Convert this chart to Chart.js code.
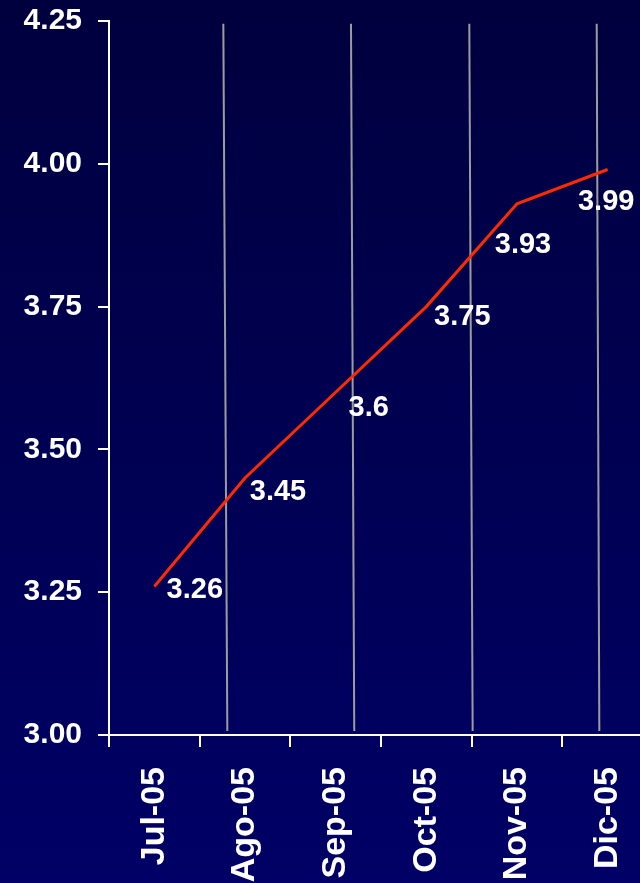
<!DOCTYPE html>
<html>
<head>
<meta charset="utf-8">
<script src="https://cdn.jsdelivr.net/npm/chart.js@4.4.0/dist/chart.umd.min.js"></script>
<style>
  html, body {
    margin: 0;
    padding: 0;
    width: 640px;
    height: 883px;
    overflow: hidden;
    background: linear-gradient(#00003e, #000066);
  }
  canvas { display: block; }
</style>
</head>
<body>
<canvas id="chart" width="700" height="883" style="width:700px;height:883px"></canvas>
<script>
// Monthly series
const months = ['Jul-05', 'Ago-05', 'Sep-05', 'Oct-05', 'Nov-05', 'Dic-05'];
const rates = [3.26, 3.45, 3.6, 3.75, 3.93, 3.99];
const yTicks = [3.00, 3.25, 3.50, 3.75, 4.00, 4.25];

// Vertical guide rules, given as category positions at their top and bottom ends
const guideTopIdx = [0.761, 2.169, 3.474, 4.879];
const guideBottomIdx = [0.805, 2.205, 3.511, 4.908];
const guideTopVal = 4.245;
const guideBottomVal = 3.007;

const FONT = '"Liberation Sans", Arial, Helvetica, sans-serif';
Chart.defaults.font.family = FONT;

// Writes each month's value next to its point
const valueLabels = {
  id: 'valueLabels',
  afterDatasetsDraw(chart, args, opts) {
    const meta = chart.getDatasetMeta(0);
    const ctx = chart.ctx;
    const size = opts.size;
    ctx.save();
    ctx.font = 'bold ' + size + 'px ' + FONT;
    ctx.fillStyle = '#ffffff';
    ctx.textAlign = 'center';
    ctx.textBaseline = 'alphabetic';
    meta.data.forEach((pt, i) => {
      const off = opts.offsets[i];
      ctx.fillText(String(rates[i]), pt.x + off[0], pt.y + off[1] + 0.358 * size);
    });
    ctx.restore();
  }
};

const guideSets = guideTopIdx.map((top, i) => ({
  data: [{ x: top, y: guideTopVal }, { x: guideBottomIdx[i], y: guideBottomVal }],
  xAxisID: 'xg',
  yAxisID: 'y',
  borderColor: '#9c9c9c',
  borderWidth: 2,
  pointRadius: 0,
  order: 1
}));

new Chart(document.getElementById('chart'), {
  type: 'line',
  data: {
    labels: months,
    datasets: [
      {
        data: rates,
        xAxisID: 'x',
        yAxisID: 'y',
        borderColor: '#ff2a00',
        borderWidth: 3,
        pointRadius: 0,
        tension: 0,
        order: 0
      },
      ...guideSets
    ]
  },
  options: {
    responsive: false,
    animation: false,
    devicePixelRatio: 1,
    layout: { padding: { left: 23, right: 47, top: 21, bottom: 0 } },
    plugins: {
      legend: { display: false },
      tooltip: { enabled: false },
      valueLabels: {
        size: 29,
        offsets: [[40.5, 1.5], [33, 12], [33, 13], [36, 8.5], [6, 39], [-1.5, 30.5]]
      }
    },
    scales: {
      x: {
        type: 'category',
        offset: true,
        grid: { offset: true, drawOnChartArea: false, color: '#ffffff', lineWidth: 2, tickLength: 12 },
        border: { color: '#ffffff', width: 2 },
        ticks: {
          color: '#ffffff',
          font: { size: 34, weight: 'bold' },
          minRotation: 90,
          maxRotation: 90,
          autoSkip: false,
          padding: 20
        },
        afterFit(scale) {
          scale.height = 148;
          scale.paddingLeft = 0;
          scale.paddingRight = 0;
        }
      },
      xg: { type: 'linear', display: false, min: -0.5, max: 5.5 },
      y: {
        min: 3,
        max: 4.25,
        afterBuildTicks(scale) { scale.ticks = yTicks.map(v => ({ value: v })); },
        grid: { drawOnChartArea: false, color: '#ffffff', lineWidth: 2, tickLength: 11 },
        border: { color: '#ffffff', width: 2 },
        ticks: {
          color: '#ffffff',
          font: { size: 30, weight: 'bold' },
          padding: 16,
          callback: v => Number(v).toFixed(2)
        },
        afterFit(scale) {
          scale.width = 86;
          scale.paddingTop = 0;
          scale.paddingBottom = 0;
        }
      }
    }
  },
  plugins: [valueLabels]
});
</script>
</body>
</html>
